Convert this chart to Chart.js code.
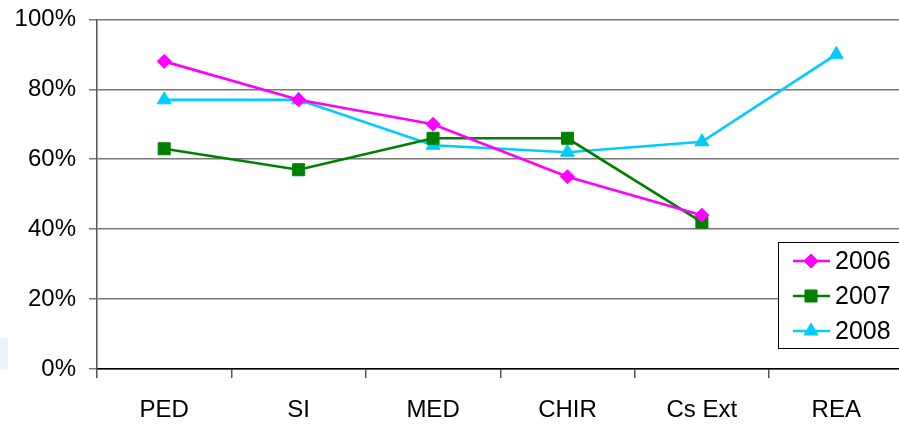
<!DOCTYPE html>
<html>
<head>
<meta charset="utf-8">
<script src="https://cdn.jsdelivr.net/npm/chart.js@4"></script>
<style>
    html, body { margin: 0; padding: 0; background: #fff; overflow: hidden; }
    #wrap { position: relative; width: 913px; height: 427px; overflow: hidden; }
    #grafico { position: absolute; left: 0; top: -8px; }
    #marca { position: absolute; left: 0; top: 338px; width: 8px; height: 32px; background: #eaf5fd; }
</style>
</head>
<body>
<div id="wrap">
    <div id="marca"></div>
    <canvas id="grafico" width="913" height="435"></canvas>
</div>
<script>
const categorias = ['PED', 'SI', 'MED', 'CHIR', 'Cs Ext', 'REA'];
const serie2006 = [88, 77, 70, 55, 44, null];
const serie2007 = [63, 57, 66, 66, 42, null];
const serie2008 = [77, 77, 64, 62, 65, 90];
const ticksY = [0, 20, 40, 60, 80, 100];

const fuente = "'Liberation Sans', Arial, sans-serif";

// leyenda dibujada a mano (coordenadas del canvas, que va 8px mas arriba)
const leyendaCaja = {
    id: 'leyendaCaja',
    afterDraw(chart) {
        const ctx = chart.ctx;
        const dy = 8;
        const x = 778, y = 242 + dy, w = 125, h = 106;
        ctx.save();
        ctx.fillStyle = '#fff';
        ctx.fillRect(x, y, w, h);
        ctx.strokeStyle = '#000';
        ctx.lineWidth = 1;
        ctx.strokeRect(x + 0.5, y + 0.5, w, h);
        chart.data.datasets.forEach((ds, i) => {
            const cy = 261 + dy + i * 35;
            ctx.strokeStyle = ds.borderColor;
            ctx.lineWidth = 2.5;
            ctx.beginPath();
            ctx.moveTo(793, cy);
            ctx.lineTo(830, cy);
            ctx.stroke();
            ctx.fillStyle = ds.borderColor;
            ctx.strokeStyle = ds.borderColor;
            ctx.lineWidth = 1;
            Chart.helpers.drawPoint(ctx, {
                pointStyle: ds.pointStyle,
                radius: ds.pointRadius,
                rotation: 0,
                borderWidth: 1
            }, 811, cy);
            ctx.fillStyle = '#000';
            ctx.font = '25px ' + fuente;
            ctx.textBaseline = 'middle';
            ctx.textAlign = 'left';
            ctx.fillText(ds.label, 835, cy + 1);
        });
        ctx.restore();
    }
};

function serie(label, datos, color, estilo, radio) {
    return {
        label: label,
        data: datos,
        borderColor: color,
        backgroundColor: color,
        borderWidth: 2.7,
        pointStyle: estilo,
        pointRadius: radio,
        pointHoverRadius: radio,
        pointBorderWidth: 1,
        tension: 0,
        spanGaps: false
    };
}

new Chart(document.getElementById('grafico').getContext('2d'), {
    type: 'line',
    data: {
        labels: categorias,
        datasets: [
            serie('2006', serie2006, '#ff00ff', 'rectRot', 7),
            serie('2007', serie2007, '#008000', 'rect', 8.5),
            serie('2008', serie2008, '#00ccff', 'triangle', 8)
        ]
    },
    options: {
        responsive: false,
        animation: false,
        layout: { padding: { left: 0, right: 0, top: 12, bottom: 0 } },
        plugins: { legend: { display: false }, tooltip: { enabled: false } },
        scales: {
            x: {
                offset: true,
                grid: { offset: true, drawOnChartArea: false, drawTicks: true, tickLength: 9, color: '#555', lineWidth: 1.5 },
                border: { color: '#000', width: 1.5 },
                ticks: { color: '#000', font: { family: fuente, size: 24 }, padding: 18, maxRotation: 0 },
                afterFit: s => { s.height = 58; }
            },
            y: {
                min: 0,
                max: 100,
                afterBuildTicks: s => { s.ticks = ticksY.map(v => ({ value: v })); },
                grid: { color: '#777', lineWidth: 1.5, tickLength: 8 },
                border: { color: '#555', width: 1.5 },
                ticks: { color: '#000', font: { family: fuente, size: 24 }, padding: 13, callback: v => v + '%' },
                afterFit: s => { s.width = 97; }
            }
        }
    },
    plugins: [leyendaCaja]
});
</script>
</body>
</html>
